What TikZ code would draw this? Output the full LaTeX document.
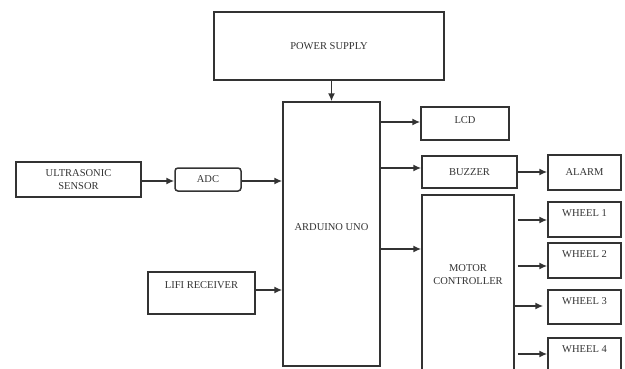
\documentclass[tikz,border=0pt]{standalone}
\usepackage{fontspec}
\setmainfont{Liberation Serif}
\usetikzlibrary{arrows.meta}
\definecolor{ln}{gray}{0.2}
\definecolor{tx}{gray}{0.2}
\begin{document}
\begin{tikzpicture}[x=1pt,y=-1pt,
  box/.style={draw=ln, line width=1.5pt, inner sep=0pt, font=\fontsize{10.5}{12.8}\selectfont, text=tx, align=center},
  lbl/.style={text=tx, font=\fontsize{10.5}{12.8}\selectfont, align=center, inner sep=0pt},
  arr/.style={draw=ln, line width=1.5pt, -{Latex[length=8pt,width=7pt]}}]
\clip (0,0) rectangle (625,368);
\fill[white] (0,0) rectangle (625,368);
% nodes
\node[box, minimum width=230pt, minimum height=68pt] (ps) at (329,46) {POWER SUPPLY};
\node[box, minimum width=97pt, minimum height=264pt] (ard) at (331.5,234) {};
\node[lbl] (ardt) at (331.5,227) {ARDUINO UNO};
\node[box, minimum width=88pt, minimum height=33pt, label={[lbl,yshift=3.5pt]center:LCD}] (lcd) at (465,123.5) {};
\node[box, minimum width=95pt, minimum height=32pt] (buz) at (469.5,172) {BUZZER};
\node[box, minimum width=73pt, minimum height=35pt] (alarm) at (584.5,172.5) {ALARM};
\node[box, minimum width=92pt, minimum height=185pt, label={[lbl,yshift=13pt]center:MOTOR\\CONTROLLER}] (mc) at (468,287.5) {};
\node[box, minimum width=73pt, minimum height=35pt, label={[lbl,yshift=6.5pt]center:WHEEL 1}] (w1) at (584.5,219.5) {};
\node[box, minimum width=73pt, minimum height=35pt, label={[lbl,yshift=6.5pt]center:WHEEL 2}] (w2) at (584.5,260.5) {};
\node[box, minimum width=73pt, minimum height=34pt, label={[lbl,yshift=6pt]center:WHEEL 3}] (w3) at (584.5,307) {};
\node[box, minimum width=73pt, minimum height=35pt, label={[lbl,yshift=6.5pt]center:WHEEL 4}] (w4) at (584.5,355.5) {};
\node[box, minimum width=125pt, minimum height=35pt] (us) at (78.5,179.5) {ULTRASONIC\\SENSOR};
\node[box, minimum width=66pt, minimum height=23pt, rounded corners=3pt] (adc) at (208,179.5) {ADC};
\node[box, minimum width=107pt, minimum height=42pt, label={[lbl,yshift=8pt]center:LIFI RECEIVER}] (lifi) at (201.5,293) {};
% connectors
\draw[arr] (ps.south -| ard.north) -- (ard.north);
\draw[arr] (ard.east |- 0,122) -- (lcd.west |- 0,122);
\draw[arr] (ard.east |- 0,168) -- (buz.west |- 0,168);
\draw[arr] (buz.east |- 0,172) -- (alarm.west |- 0,172);
\draw[arr] (ard.east |- 0,249) -- (mc.west |- 0,249);
\draw[arr] ([xshift=3pt]mc.east |- 0,220) -- (w1.west |- 0,220);
\draw[arr] ([xshift=3pt]mc.east |- 0,266) -- (w2.west |- 0,266);
\draw[arr] (mc.east |- 0,306) -- ([xshift=-4pt]w3.west |- 0,306);
\draw[arr] ([xshift=3pt]mc.east |- 0,354) -- (w4.west |- 0,354);
\draw[arr] (us.east |- 0,181) -- (adc.west |- 0,181);
\draw[arr] (adc.east |- 0,181) -- (ard.west |- 0,181);
\draw[arr] (lifi.east |- 0,290) -- (ard.west |- 0,290);
\end{tikzpicture}
\end{document}
